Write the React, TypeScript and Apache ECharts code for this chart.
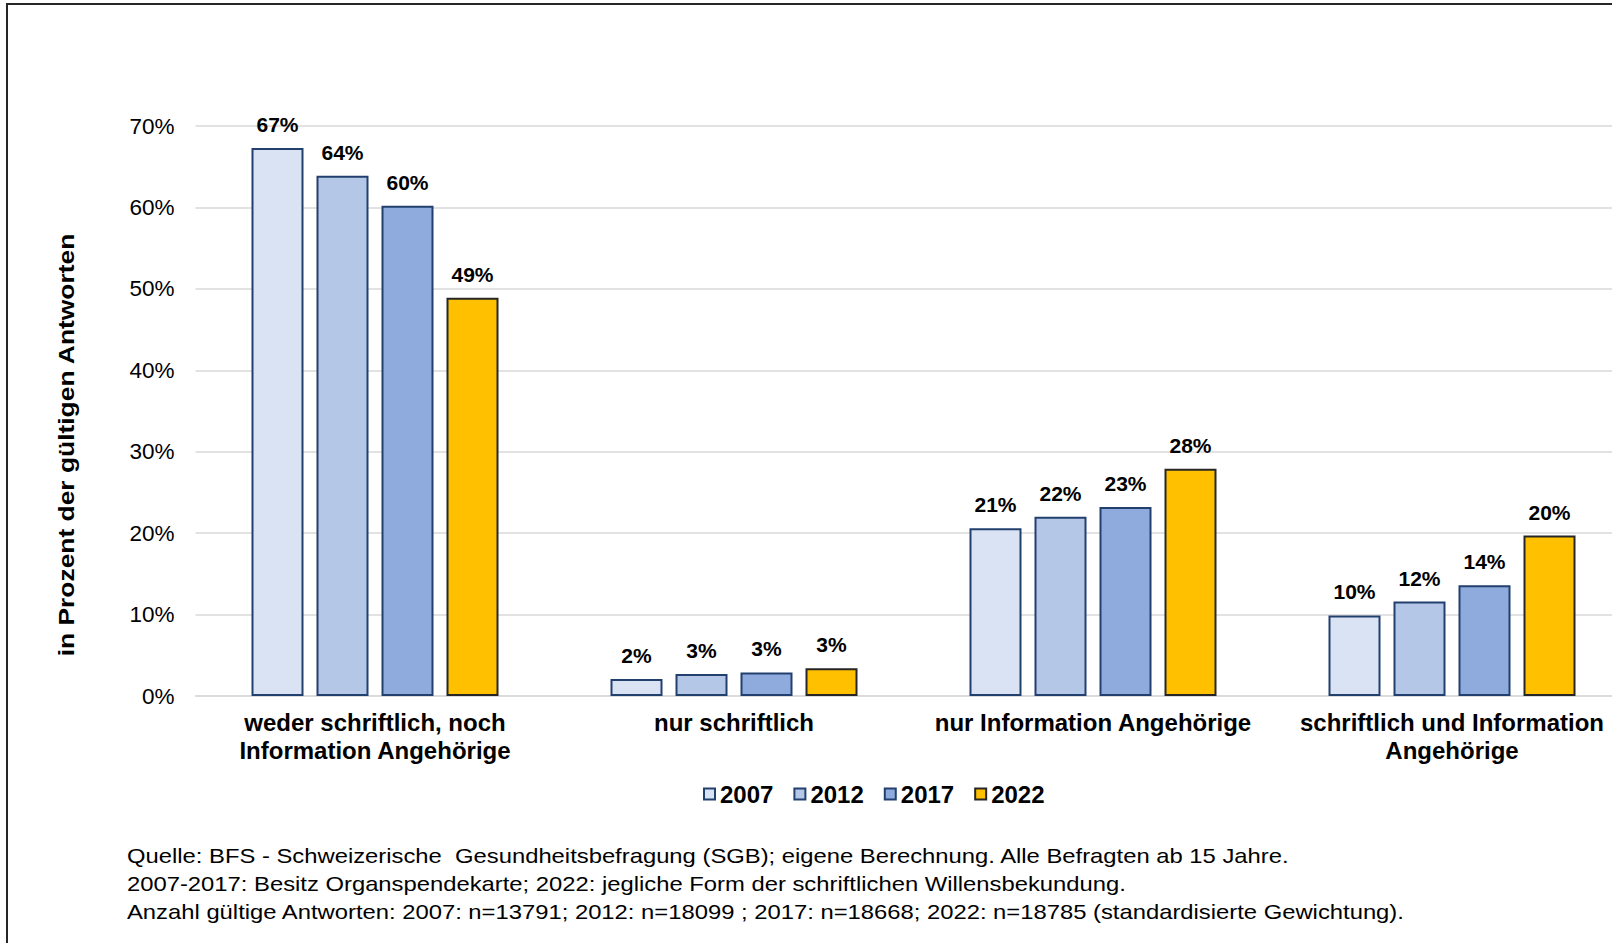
import React, { useEffect, useRef } from "react";
import * as echarts from "echarts";

const categories = [
  "weder schriftlich, noch\nInformation Angehörige",
  "nur schriftlich",
  "nur Information Angehörige",
  "schriftlich und Information\nAngehörige",
];
const years = ["2007", "2012", "2017", "2022"];
const values2007 = [67.3, 2.1, 20.6, 9.9];
const values2012 = [63.9, 2.7, 22.0, 11.6];
const values2017 = [60.2, 2.9, 23.2, 13.6];
const values2022 = [48.9, 3.4, 27.9, 19.7];
const yTicks = [0, 10, 20, 30, 40, 50, 60, 70];
const yAxisTitle = "in Prozent der gültigen Antworten";
const footnotes = [
  "Quelle: BFS - Schweizerische  Gesundheitsbefragung (SGB); eigene Berechnung. Alle Befragten ab 15 Jahre.",
  "2007-2017: Besitz Organspendekarte; 2022: jegliche Form der schriftlichen Willensbekundung.",
  "Anzahl gültige Antworten: 2007: n=13791; 2012: n=18099 ; 2017: n=18668; 2022: n=18785 (standardisierte Gewichtung).",
];

const fills = ["#DAE3F3", "#B4C7E7", "#8FAADC", "#FFC000"];
const borders = ["#22406E", "#22406E", "#22406E", "#262626"];
const FONT = "'Liberation Sans', Arial, sans-serif";

export default function App() {
  const ref = useRef<HTMLDivElement>(null);
  useEffect(() => {
    document.body.style.margin = "0";
    document.body.style.overflow = "hidden";
    const chart = echarts.init(ref.current!, null, { renderer: "svg" });
    const seriesData = [values2007, values2012, values2017, values2022];
    chart.setOption({
      animation: false,
      backgroundColor: "#ffffff",
      textStyle: { fontFamily: FONT },
      grid: { left: 195.5, top: 126, width: 1436, height: 570, containLabel: false },
      legend: {
        data: years,
        left: 703,
        top: 782,
        padding: 0,
        itemWidth: 11,
        itemHeight: 11,
        itemGap: 20,
        icon: "rect",
        textStyle: { fontFamily: FONT, fontSize: 24, fontWeight: "bold", color: "#000" },
      },
      xAxis: {
        type: "category",
        data: categories,
        axisLine: { show: true, lineStyle: { color: "#D9D9D9", width: 1.5 } },
        axisTick: { show: false },
        axisLabel: {
          interval: 0,
          margin: 13,
          fontFamily: FONT,
          fontSize: 24,
          fontWeight: "bold",
          color: "#000",
          lineHeight: 27.5,
        },
      },
      yAxis: {
        type: "value",
        min: 0,
        max: yTicks[yTicks.length - 1],
        interval: 10,
        axisLine: { show: false },
        axisTick: { show: false },
        splitLine: { lineStyle: { color: "#D9D9D9", width: 1.5 } },
        axisLabel: {
          margin: 21,
          fontFamily: FONT,
          fontSize: 22.5,
          color: "#000",
          formatter: (v: number) => v + "%",
        },
      },
      series: years.map((y, i) => ({
        name: y,
        type: "bar",
        data: seriesData[i],
        barWidth: 52,
        barGap: "25%",
        itemStyle: { color: fills[i], borderColor: borders[i], borderWidth: 2 },
        label: {
          show: true,
          position: "top",
          distance: 13,
          fontFamily: FONT,
          fontSize: 21,
          fontWeight: "bold",
          color: "#000",
          formatter: (p: any) => Math.round(p.value) + "%",
        },
      })),
      graphic: [
        {
          type: "rect",
          silent: true,
          shape: { x: 7, y: 4, width: 1800, height: 1000 },
          style: { fill: "none", stroke: "#262626", lineWidth: 2 },
        },
        {
          type: "text",
          x: 66,
          y: 445,
          rotation: Math.PI / 2,
          scaleX: 1.2,
          style: {
            text: yAxisTitle,
            fontFamily: FONT,
            fontSize: 22,
            fontWeight: "bold",
            fill: "#000",
            align: "center",
            verticalAlign: "middle",
          },
        },
        ...footnotes.map((t, i) => ({
          type: "text",
          x: 127,
          y: 856 + i * 27.8,
          scaleX: 1.134,
          style: {
            text: t,
            fontFamily: FONT,
            fontSize: 21,
            fill: "#000",
            align: "left",
            verticalAlign: "middle",
          },
        })),
      ],
    });
    return () => chart.dispose();
  }, []);
  return (
    <div style={{ width: 1612, height: 943, overflow: "hidden", position: "relative" }}>
      <div ref={ref} style={{ width: 1800, height: 943 }} />
    </div>
  );
}
